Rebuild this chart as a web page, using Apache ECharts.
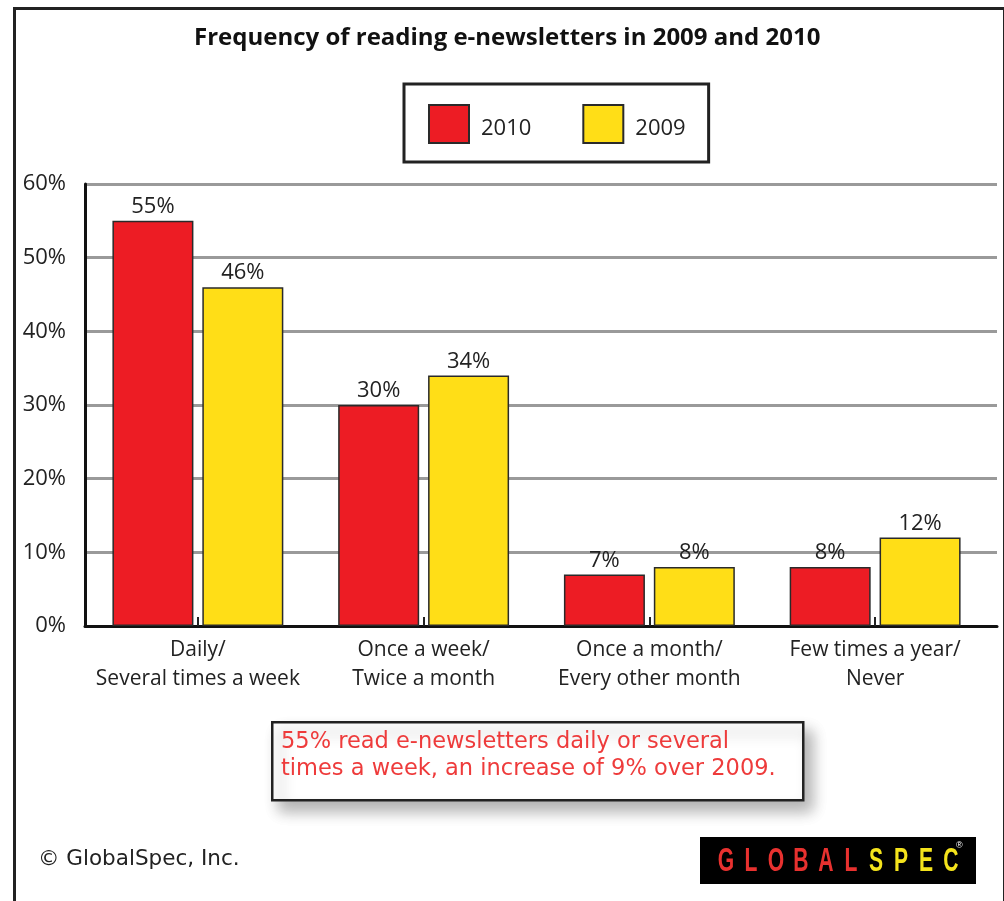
<!DOCTYPE html>
<html>
<head>
<meta charset="utf-8">
<script src="https://cdn.jsdelivr.net/npm/echarts@6/dist/echarts.min.js"></script>
<style>
html,body{margin:0;padding:0;background:#fff;}
#chart{width:1004px;height:901px;}
</style>
</head>
<body>
<div id="chart"></div>
<script>
// ---- data ----
const categories = ['Daily/\nSeveral times a week', 'Once a week/\nTwice a month', 'Once a month/\nEvery other month', 'Few times a year/\nNever'];
const values2010 = [55, 30, 7, 8];
const values2009 = [46, 34, 8, 12];
const seriesNames = ['2010', '2009'];
const yTicks = [0, 10, 20, 30, 40, 50, 60];
const titleText = 'Frequency of reading e-newsletters in 2009 and 2010';
const noteText = '55% read e-newsletters daily or several\ntimes a week, an increase of 9% over 2009.';
const creditText = '\u00A9 GlobalSpec, Inc.';
const logoLetters = ['G','L','O','B','A','L','S','P','E','C'];

const RED = '#ED1C24';
const YELLOW = '#FFDE17';
const FONT = "'Open Sans', 'Noto Sans', sans-serif";

const chart = echarts.init(document.getElementById('chart'), null, {renderer: 'canvas'});

const logoGraphics = logoLetters.map((ch, i) => ({
  type: 'text',
  x: 726 + i * 25,
  y: 862,
  scaleX: 0.64,
  z: 12,
  style: {
    text: ch,
    x: 0, y: 0,
    textAlign: 'center',
    textVerticalAlign: 'middle',
    fill: i < 6 ? '#E8312F' : '#F4E31C',
    font: "bold 33px 'Liberation Sans', Arial, sans-serif"
  }
}));

const option = {
  backgroundColor: '#fff',
  animation: false,
  title: {
    text: titleText,
    left: 189,
    top: 21,
    textStyle: {fontFamily: FONT, fontWeight: 'bold', fontSize: 24, color: '#111'}
  },
  legend: {
    data: seriesNames,
    icon: 'rect',
    left: 404,
    top: 84,
    padding: [20, 23, 18, 24],
    itemWidth: 40,
    itemHeight: 38,
    itemGap: 51,
    borderColor: '#222',
    borderWidth: 3,
    formatter: '{a|{name}}',
    textStyle: {
      fontFamily: FONT, fontSize: 22, color: '#222',
      rich: {a: {fontFamily: FONT, fontSize: 22, color: '#222', padding: [9, 0, 0, 7]}}
    }
  },
  grid: [
    {left: 85, top: 184, width: 903, height: 442},
    {left: 85, top: 184, width: 912, height: 442}
  ],
  xAxis: [
    {
      type: 'category', gridIndex: 0, data: categories,
      axisLine: {show: false},
      axisTick: {show: true, inside: true, alignWithLabel: true, length: 9, lineStyle: {color: '#222', width: 2}},
      axisLabel: {interval: 0, fontFamily: FONT, fontSize: 21, color: '#222', lineHeight: 29, margin: 10},
      splitLine: {show: false}
    },
    {
      type: 'value', gridIndex: 1, min: 0, max: 1,
      axisLine: {show: true, lineStyle: {color: '#111', width: 3}},
      axisTick: {show: false}, axisLabel: {show: false}, splitLine: {show: false}
    }
  ],
  yAxis: [
    {type: 'value', gridIndex: 0, min: 0, max: 60, interval: 10, show: false},
    {
      type: 'value', gridIndex: 1, min: yTicks[0], max: yTicks[yTicks.length - 1], interval: 10,
      axisLine: {show: true, lineStyle: {color: '#111', width: 3}},
      axisTick: {show: false},
      axisLabel: {formatter: '{value}%', fontFamily: FONT, fontSize: 22, color: '#222', margin: 19},
      splitLine: {show: true, lineStyle: {color: '#9a9a9a', width: 3}}
    }
  ],
  series: [
    {
      name: seriesNames[0], type: 'bar', xAxisIndex: 0, yAxisIndex: 0,
      data: values2010, barWidth: 81, barGap: '11%',
      itemStyle: {color: RED, borderColor: '#2a2a2a', borderWidth: 1.5},
      label: {show: true, position: 'top', distance: 3, formatter: '{c}%', fontFamily: FONT, fontSize: 22, color: '#222'}
    },
    {
      name: seriesNames[1], type: 'bar', xAxisIndex: 0, yAxisIndex: 0,
      data: values2009, barWidth: 81, barGap: '11%',
      itemStyle: {color: YELLOW, borderColor: '#2a2a2a', borderWidth: 1.5},
      label: {show: true, position: 'top', distance: 3, formatter: '{c}%', fontFamily: FONT, fontSize: 22, color: '#222'}
    }
  ],
  graphic: [
    {
      type: 'rect', left: 12, top: 6, z: -10,
      shape: {width: 990, height: 930},
      style: {fill: 'none', stroke: '#222', lineWidth: 3}
    },
    {
      type: 'rect', left: 271, top: 721, z: 10,
      shape: {width: 531, height: 78},
      style: {fill: '#fff', stroke: '#222', lineWidth: 2.5,
        shadowBlur: 14, shadowOffsetX: 8, shadowOffsetY: 10, shadowColor: 'rgba(0,0,0,0.3)'}
    },
    {
      type: 'text', left: 281, top: 729, z: 11,
      style: {text: noteText, fill: '#EE3B3B', font: "22.5px 'DejaVu Sans', sans-serif", lineHeight: 27}
    },
    {
      type: 'text', left: 38, top: 848, z: 11,
      style: {text: creditText, fill: '#222', font: "21.5px 'DejaVu Sans', sans-serif"}
    },
    {
      type: 'rect', left: 700, top: 837, z: 11,
      shape: {width: 276, height: 47},
      style: {fill: '#000'}
    },
    ...logoGraphics,
    {
      type: 'text', left: 956, top: 841, z: 12,
      style: {text: '\u00AE', fill: '#fff', font: "9px 'Liberation Sans', sans-serif"}
    }
  ]
};
chart.setOption(option);
</script>
</body>
</html>
